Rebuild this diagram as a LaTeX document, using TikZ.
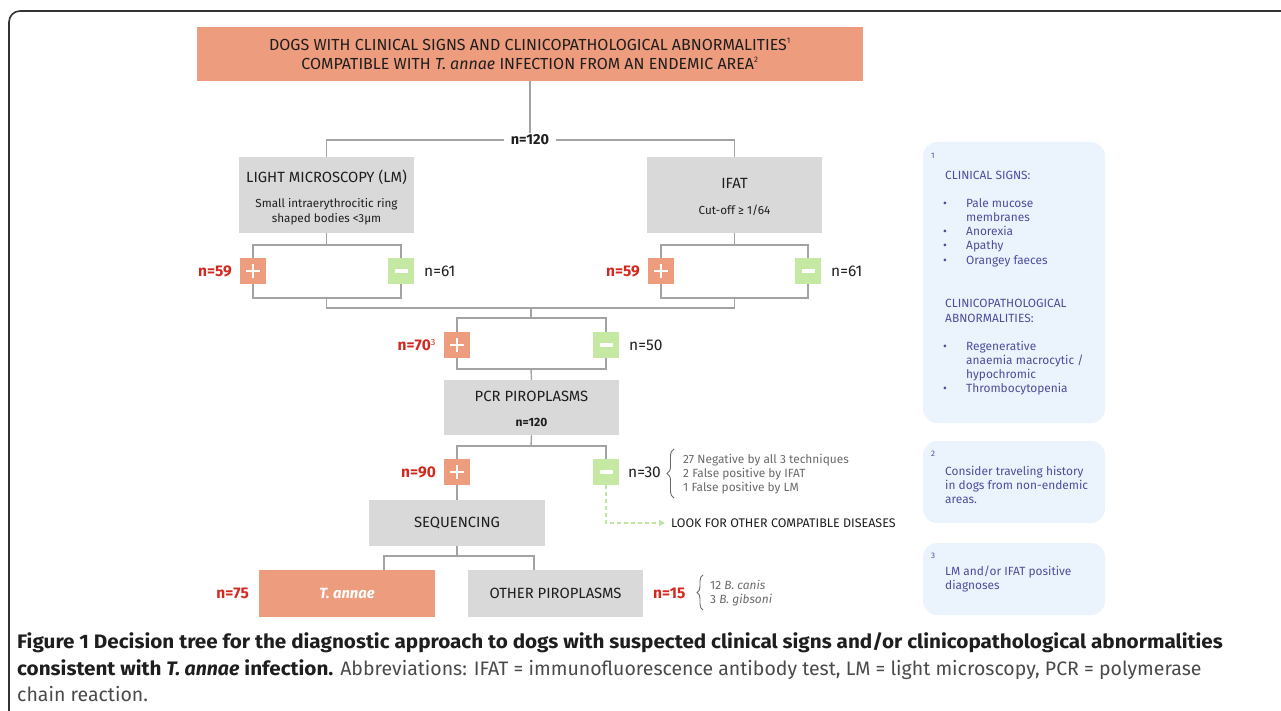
\documentclass[tikz,border=0pt]{standalone}
\usepackage{fontspec}
\setmainfont{Fira Sans}
\newfontfamily\capfont{Fira Sans}[BoldFeatures={FakeStretch=1.06}]
\usetikzlibrary{decorations.pathreplacing,arrows.meta}
\definecolor{salmon}{HTML}{EE9C7E}
\definecolor{boxgray}{HTML}{D9D9D9}
\definecolor{mgreen}{HTML}{C5E8A3}
\definecolor{linegray}{HTML}{A3A3A3}
\definecolor{nred}{HTML}{D2281E}
\definecolor{txt}{HTML}{1E1E1E}
\definecolor{bracetxt}{HTML}{6A6A6A}
\definecolor{panelfill}{HTML}{EBF4FD}
\definecolor{paneltxt}{HTML}{4E4E9E}
\definecolor{dashgreen}{HTML}{BFE3A0}
\definecolor{frame}{HTML}{333333}
\definecolor{capgray}{HTML}{4A4A4A}
\newcommand{\fs}[1]{\fontsize{#1}{\fpeval{#1*1.25}}\selectfont}
\tikzset{
  conn/.style={draw=linegray, line width=1.4},
  graybox/.style={fill=boxgray, minimum width=175, inner sep=0, align=center, text=txt},
  boxtitle/.style={text=txt, font=\fs{14.8}, inner sep=0, anchor=base},
  boxsub/.style={text=txt, font=\fs{11.7}, inner sep=0, anchor=base},
  plusbox/.style={fill=salmon, minimum width=26, minimum height=26, inner sep=0,
    path picture={\draw[white,line width=2]([xshift=-7]path picture bounding box.center)--([xshift=7]path picture bounding box.center);
                  \draw[white,line width=2]([yshift=-7]path picture bounding box.center)--([yshift=7]path picture bounding box.center);}},
  minusbox/.style={fill=mgreen, minimum width=26, minimum height=26, inner sep=0,
    path picture={\draw[white,line width=3.5]([xshift=-6.5]path picture bounding box.center)--([xshift=6.5]path picture bounding box.center);}},
  redn/.style={text=nred, font=\fs{15.5}\bfseries, inner sep=0},
  darkn/.style={text=txt, font=\fs{15.5}, inner sep=0},
  panel/.style={fill=panelfill, rounded corners=14},
  ptxt/.style={text=paneltxt, font=\fs{11.9}, inner sep=0, anchor=base west},
  btxt/.style={text=bracetxt, font=\fs{11.9}, inner sep=0, anchor=base west},
  brc/.style={draw=bracetxt, line width=0.9, decorate, decoration={brace, amplitude=6}},
}
\begin{document}
\begin{tikzpicture}[x=1pt,y=-1pt]
\useasboundingbox (0,0) rectangle (1281,711);
\clip (0,0) rectangle (1281,711);
% frame
\draw[frame, line width=1.6, rounded corners=11] (9,740) -- (9,11) -- (1300,11);
% top box
\node[fill=salmon, minimum width=666, minimum height=54, inner sep=0, align=center, text=txt, font=\fs{16}] (top) at (530,54)
  {DOGS WITH CLINICAL SIGNS AND CLINICOPATHOLOGICAL ABNORMALITIES\textsuperscript{\fs{8}1}\\[-1pt]
   COMPATIBLE WITH \textit{T. annae} INFECTION FROM AN ENDEMIC AREA\textsuperscript{\fs{8}2}};
% LM and IFAT
\node[graybox, minimum height=76] (lm) at (326.5,195) {};
\node[boxtitle] (lmt) at (326.5,183) {LIGHT MICROSCOPY (LM)};
\node[boxsub] (lms1) at (326.5,207.5) {Small intraerythrocitic ring};
\node[boxsub] (lms2) at (326.5,222.5) {shaped bodies <3µm};
\node[graybox, minimum height=76] (ifat) at (734.5,195) {};
\node[boxtitle] (ifatt) at (734.5,189) {IFAT};
\node[boxsub] (ifats) at (734.5,214.5) {Cut-off ≥ 1/64};
\coordinate (j1) at (530,140);
\draw[conn] (top.south) -- (j1);
\draw[conn] (j1) -| (lm.north);
\draw[conn] (j1) -| (ifat.north);
\node[fill=white, inner xsep=7, inner ysep=2, text=txt, font=\fs{14.5}\bfseries] (n120) at (j1) {n=120};
% LM results
\node[plusbox] (lmp) at (253,271) {};
\node[minusbox] (lmm) at (401,271) {};
\node[plusbox] (ifp) at (661,271) {};
\node[minusbox] (ifm) at (808,271) {};
\node[redn, anchor=east] (n59a) at (232,271) {n=59};
\node[darkn, anchor=west] (n61a) at (424,271) {n=61};
\node[redn, anchor=east] (n59b) at (640,271) {n=59};
\node[darkn, anchor=west] (n61b) at (831,271) {n=61};
\coordinate (lmj) at (326.5,245);
\coordinate (lmk) at (326.5,298);
\coordinate (ifj) at (734.5,245);
\coordinate (ifk) at (734.5,298);
\draw[conn] (lm.south) -- (lmj);
\draw[conn] (lmp.north) -- (lmp.north |- lmj) -- (lmm.north |- lmj) -- (lmm.north);
\draw[conn] (lmp.south) -- (lmp.south |- lmk) -- (lmm.south |- lmk) -- (lmm.south);
\draw[conn] (ifat.south) -- (ifj);
\draw[conn] (ifp.north) -- (ifp.north |- ifj) -- (ifm.north |- ifj) -- (ifm.north);
\draw[conn] (ifp.south) -- (ifp.south |- ifk) -- (ifm.south |- ifk) -- (ifm.south);
\coordinate (mg) at (531,308);
\draw[conn] (lmk) -- (lmk |- mg) -- (ifk |- mg) -- (ifk);
% n=70 / n=50
\node[plusbox] (p70) at (457,345) {};
\node[minusbox] (m50) at (606,345) {};
\node[redn, anchor=east] (n70) at (436,345) {n=70\textsuperscript{\fs{9}\mdseries 3}};
\node[darkn, anchor=west] (n50) at (629,345) {n=50};
\coordinate (j70) at (531,318);
\coordinate (k70) at (531,369);
\node[graybox, minimum height=55] (pcr) at (531.5,407.5) {};
\node[boxtitle] (pcrt) at (531.5,401) {PCR PIROPLASMS};
\node[boxsub, font=\fs{12}\bfseries] (pcrn) at (531.5,426.5) {n=120};
\draw[conn] (mg) -- (j70);
\draw[conn] (p70.north) -- (p70.north |- j70) -- (m50.north |- j70) -- (m50.north);
\draw[conn] (p70.south) -- (p70.south |- k70) -- (m50.south |- k70) -- (m50.south);
\draw[conn] (k70) -- (pcr.north);
% n=90 / n=30
\node[plusbox] (p90) at (457,472) {};
\node[minusbox] (m30) at (606,472) {};
\node[redn, anchor=east] (n90) at (436,472) {n=90};
\node[darkn, anchor=west] (n30) at (628,472) {n=30};
\coordinate (j90) at (531,446);
\draw[conn] (pcr.south) -- (j90);
\draw[conn] (p90.north) -- (p90.north |- j90) -- (m30.north |- j90) -- (m30.north);
\node[graybox, minimum width=176, minimum height=46, font=\fs{14.8}] (seq) at (457,523) {SEQUENCING};
\draw[conn] (p90.south) -- (seq.north);
\node[text=txt, font=\fs{12.5}, inner sep=0, anchor=west] (look) at (671,523) {LOOK FOR OTHER COMPATIBLE DISEASES};
\draw[dashgreen, line width=1.2, dashed, dash pattern=on 4 off 3, -{Triangle[length=6,width=6]}, shorten >=6]
  (m30.south) |- (look.west);
\draw[brc, decoration={amplitude=7}] (674,498) -- (674,449);
\node[btxt] (b1) at (683,463) {27 Negative by all 3 techniques};
\node[btxt] (b2) at (683,477) {2 False positive by IFAT};
\node[btxt] (b3) at (683,491) {1 False positive by LM};
% bottom
\node[fill=salmon, minimum width=176, minimum height=47, inner sep=0, text=white, font=\fs{14.8}\bfseries\itshape] (tann) at (347,593.5) {T. annae};
\node[graybox, minimum width=175, minimum height=47, font=\fs{14.8}] (other) at (555.5,593.5) {OTHER PIROPLASMS};
\coordinate (js) at (457,556);
\coordinate (jl) at (384,556);
\coordinate (jr) at (534,556);
\draw[conn] (seq.south) -- (js);
\draw[conn] (jl |- tann.north) -- (jl) -- (jr) -- (jr |- other.north);
\node[redn, anchor=east] (n75) at (249,593.5) {n=75};
\node[redn, anchor=west] (n15) at (653,593.5) {n=15};
\draw[brc] (703,610) -- (703,575);
\node[btxt] (c1) at (710,589) {12 \textit{B. canis}};
\node[btxt] (c2) at (710,603) {3 \textit{B. gibsoni}};
% right panels
\path[panel] (923,142) rectangle (1105,423);
\path[panel] (923,441) rectangle (1105,523);
\path[panel] (923,543) rectangle (1105,615);
\node[ptxt, font=\fs{8}] (f1) at (931,159) {1};
\node[ptxt] (cs) at (945,180) {CLINICAL SIGNS:};
\foreach \yy in {208,236,250,265,350,392} \node[ptxt] at (943,\yy) {•};
\node[ptxt] (s1a) at (966,208) {Pale mucose};
\node[ptxt] (s1b) at (966,222) {membranes};
\node[ptxt] (s2) at (966,236) {Anorexia};
\node[ptxt] (s3) at (966,250) {Apathy};
\node[ptxt] (s4) at (966,265) {Orangey faeces};
\node[ptxt] (cpa) at (945,307) {CLINICOPATHOLOGICAL};
\node[ptxt] (cpb) at (945,322) {ABNORMALITIES:};
\node[ptxt] (a1a) at (966,350) {Regenerative};
\node[ptxt] (a1b) at (966,364) {anaemia macrocytic /};
\node[ptxt] (a1c) at (966,378) {hypochromic};
\node[ptxt] (a2) at (966,392) {Thrombocytopenia};
\node[ptxt, font=\fs{8}] (f2) at (931,456) {2};
\node[ptxt] (t2a) at (945,475) {Consider traveling history};
\node[ptxt] (t2b) at (945,489) {in dogs from non-endemic};
\node[ptxt] (t2c) at (945,503) {areas.};
\node[ptxt, font=\fs{8}] (f3) at (931,558) {3};
\node[ptxt] (t3a) at (945,575) {LM and/or IFAT positive};
\node[ptxt] (t3b) at (945,589) {diagnoses};
% caption
\node[inner sep=0, anchor=base west, text=txt, font=\capfont\fs{19.5}\bfseries] (cap1) at (17,648)
  {Figure 1 Decision tree for the diagnostic approach to dogs with suspected clinical signs and/or clinicopathological abnormalities};
\node[inner sep=0, anchor=base west, text=capgray, font=\capfont\fs{19.5}] (cap2) at (17,675)
  {{\color{txt}\bfseries consistent with \textit{T. annae} infection.} Abbreviations: IFAT = immunofluorescence antibody test, LM = light microscopy, PCR = polymerase};
\node[inner sep=0, anchor=base west, text=capgray, font=\capfont\fs{19.5}] (cap3) at (17,701) {chain reaction.};
\end{tikzpicture}
\end{document}
